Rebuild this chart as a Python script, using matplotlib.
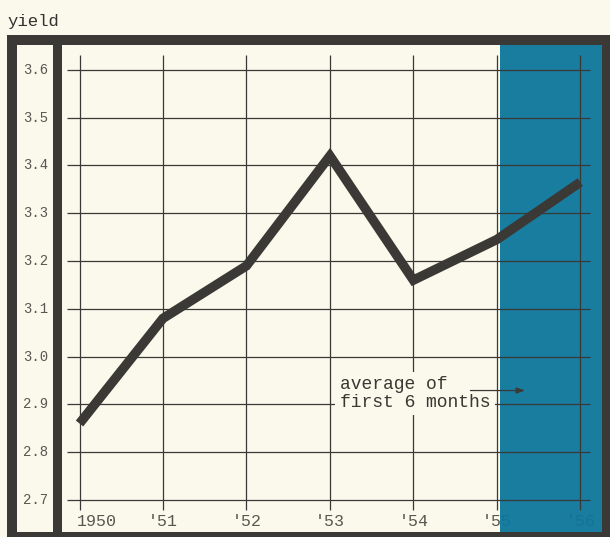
import matplotlib
matplotlib.use('Agg')
import matplotlib.pyplot as plt
from matplotlib.patches import Rectangle
from matplotlib import transforms

# Bond yield, annual averages (1956 = first six months)
years = [1950, 1951, 1952, 1953, 1954, 1955, 1956]
yields = [2.86, 3.08, 3.19, 3.42, 3.16, 3.245, 3.365]
x_labels = ['1950', "'51", "'52", "'53", "'54", "'55", "'56"]
y_ticks = [2.7, 2.8, 2.9, 3.0, 3.1, 3.2, 3.3, 3.4, 3.5, 3.6]
y_labels = ['2.7', '2.8', '2.9', '3.0', '3.1', '3.2', '3.3', '3.4', '3.5', '3.6']

W, H = 610, 537
cream = '#fbf9ec'
dark = '#3b3935'
blue = '#0d769c'
gray = '#58564f'
mono = 'Liberation Mono'


def fx(px):
    return px / W


def fy(py):
    return 1 - py / H


fig = plt.figure(figsize=(W / 100, H / 100), dpi=100, facecolor=cream)

# heavy frame around the whole chart, with a separate column for the y labels
fig.patches.append(Rectangle((fx(7), fy(537)), fx(603), 502 / H, transform=fig.transFigure,
                             facecolor=dark, edgecolor='none', zorder=-2))
fig.patches.append(Rectangle((fx(17), fy(532)), fx(36), 487 / H, transform=fig.transFigure,
                             facecolor=cream, edgecolor='none', zorder=-1))

ax = fig.add_axes([fx(62), fy(532), fx(540), 487 / H])
ax.set_facecolor(cream)
for s in ax.spines.values():
    s.set_visible(False)
ax.set_xticks([])
ax.set_yticks([])
ax.set_xlim(1949.79, 1956.26)
ax.set_ylim(2.633, 3.652)

# shaded band for the partial year
ax.axvspan(1955.036, 1956.26, color=blue, alpha=0.95, lw=0, zorder=1)

# grid
ax.hlines(y_ticks, 1949.85, 1956.12, color=dark, lw=0.9, zorder=2)
ax.vlines(years, 2.679, 3.631, color=dark, lw=0.9, zorder=2)

# x labels sit under the blue band
for yr, lab in zip(years, x_labels):
    if yr == 1950:
        ax.text(yr - 0.03, 2.656, lab, ha='left', va='center', fontsize=12,
                family=mono, color=gray, zorder=0.5)
    else:
        ax.text(yr, 2.656, lab, ha='center', va='center', fontsize=12,
                family=mono, color=gray, zorder=0.5)

# y labels in the left column
tr = transforms.blended_transform_factory(fig.transFigure, ax.transData)
for v, lab in zip(y_ticks, y_labels):
    ax.text(fx(36), v, lab, transform=tr, ha='center', va='center', fontsize=10,
            family=mono, color=gray, clip_on=False)

fig.text(fx(7), fy(26), 'yield', ha='left', va='baseline', fontsize=12.5,
         family=mono, color='#333230')

# the yield line
ax.plot(years, yields, color=dark, lw=6.8, solid_joinstyle='miter',
        solid_capstyle='butt', zorder=5)

# note on the partial year
ax.text(1953.12, 2.923, 'average of\nfirst 6 months', ha='left', va='center',
        fontsize=13, family=mono, color='#3a3833', linespacing=1.05, zorder=3,
        bbox=dict(boxstyle='square,pad=0.25', facecolor=cream, edgecolor='none'))
ax.annotate('', xy=(1955.37, 2.929), xytext=(1954.65, 2.929),
            arrowprops=dict(arrowstyle='-|>,head_length=0.5,head_width=0.18',
                            color=dark, lw=0.9), zorder=4)

fig.savefig('out.png', dpi=100, facecolor=cream)
